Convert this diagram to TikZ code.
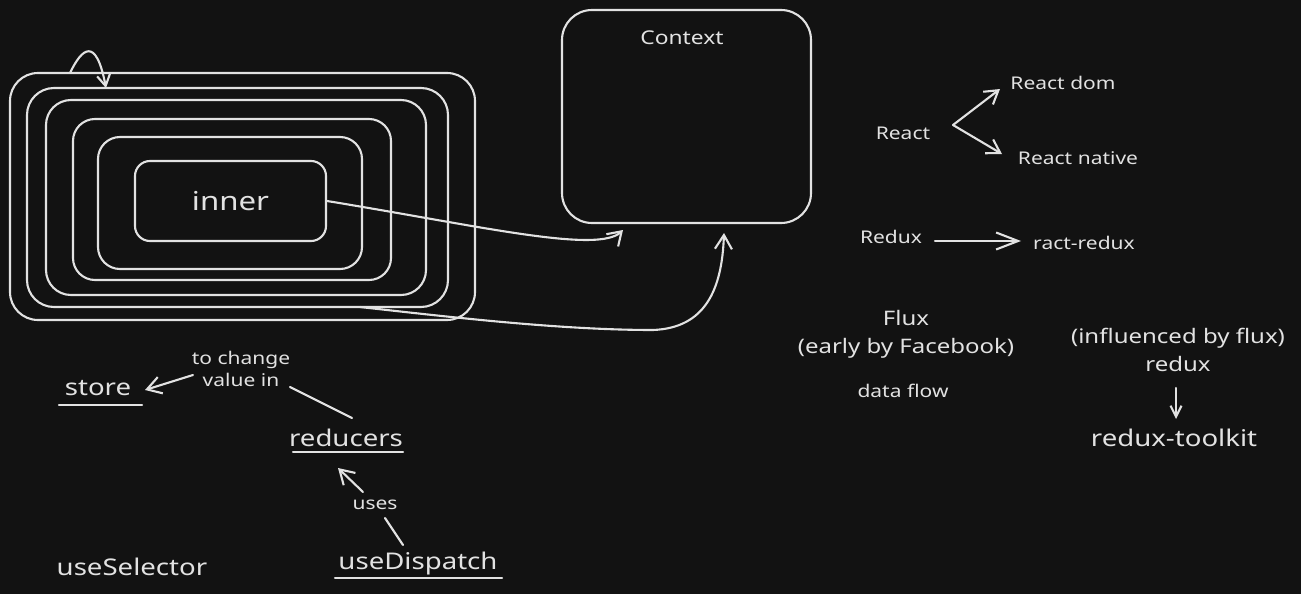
\documentclass[tikz,border=0pt]{standalone}
\usepackage{fontspec}
\setmainfont[FakeStretch=1.2]{Noto Sans}
\usetikzlibrary{arrows.meta}
\definecolor{bgc}{HTML}{121212}
\definecolor{ink}{HTML}{E2E2E2}
\tikzset{
  rbox/.style={draw=ink, line width=2.1pt, rounded corners=#1, inner sep=0pt},
  rbox/.default=25pt,
  txt/.style={text=ink, inner sep=1pt, align=center},
  fS/.style={font=\fontsize{17.5}{22}\selectfont},
  fC/.style={font=\fontsize{19}{22}\selectfont},
  fM/.style={font=\fontsize{20}{28}\selectfont},
  fL/.style={font=\fontsize{23}{28}\selectfont},
  fX/.style={font=\fontsize{26}{30}\selectfont},
  arr/.style 2 args={-{Straight Barb[length=#1,width=#2]}},
  conn/.style={draw=ink, line width=2.1pt, line cap=round, line join=round},
}
\begin{document}
\begin{tikzpicture}[x=1pt,y=-1pt]
\fill[bgc] (0,0) rectangle (1301,594);

% nested boxes
\node[rbox=28pt, minimum width=465pt, minimum height=247pt] (r1) at (242.5,196.5) {};
\node[rbox=27pt, minimum width=421pt, minimum height=219pt] (r2) at (237.5,197.5) {};
\node[rbox=25pt, minimum width=380pt, minimum height=195pt] (r3) at (236,197.5) {};
\node[rbox=22pt, minimum width=318pt, minimum height=161pt] (r4) at (232,199.5) {};
\node[rbox=22pt, minimum width=264pt, minimum height=132pt] (r5) at (230,203) {};
\node[rbox=15pt, minimum width=191pt, minimum height=80pt, txt, fX] (inner) at (230.5,201) {inner};

% context box
\node[rbox=30pt, minimum width=249pt, minimum height=213pt] (ctx) at (686.5,116.5) {};
\node[txt, fC] (ctxl) at (682,38) {Context};

% free ends
\coordinate (loopA) at (70,73);
\coordinate (loopB) at (106,88);
\coordinate (c1) at (623,230);
\coordinate (c2) at (724,233);
\coordinate (r2out) at (360,307);

\draw[conn, arr={11pt}{13pt}] (loopA) .. controls (82,48) and (96,36) .. (loopB);
\draw[conn, arr={13pt}{17pt}] (inner.east) .. controls (480,226) and (598,254) .. (c1);
\draw[conn, arr={14pt}{17pt}] (r2out) .. controls (450,317) and (560,330) .. (653,330)
   .. controls (705,328) and (722,290) .. (c2);

% right side
\node[txt, fS] (react) at (903,133) {React};
\node[txt, fS] (rdom) at (1063,83) {React dom};
\node[txt, fS] (rnative) at (1078,158) {React native};
\coordinate (rfork) at (953,125);
\coordinate (rdomin) at (1000,89);
\coordinate (rnatin) at (1002,154);
\draw[conn, arr={13pt}{16pt}] (rfork) -- (rdomin);
\draw[conn, arr={13pt}{16pt}] (rfork) -- (rnatin);

\node[txt, fS] (redux) at (891,237) {Redux};
\node[txt, fS] (ractredux) at (1084,243) {ract-redux};
\coordinate (rdxA) at (935,241);
\coordinate (rdxB) at (1021,241);
\draw[conn, arr={22pt}{17pt}] (rdxA) -- (rdxB);

\node[txt, fM] (flux) at (906,334) {Flux\\(early by Facebook)};
\node[txt, fS] (dataflow) at (903,391) {data flow};

\node[txt, fM] (infl) at (1178,350) {(influenced by flux)\\redux};
\node[txt, fL] (rtk) at (1174,438) {redux-toolkit};
\coordinate (rtkA) at (1176,388);
\coordinate (rtkB) at (1176,419);
\draw[conn, arr={11pt}{11pt}] (rtkA) -- (rtkB);

% bottom left
\node[txt, fL] (store) at (98,388) {store};
\draw[conn] (59,405) -- (142,405);
\node[txt, fS] (tochange) at (241,369) {to change\\value in};
\coordinate (tcA) at (193,375);
\coordinate (tcB) at (145,390);
\draw[conn, arr={14pt}{17pt}] (tcA) -- (tcB);

\node[txt, fL] (reducers) at (346,438) {reducers};
\draw[conn] (293,452) -- (403,452);
\coordinate (rlA) at (352,418);
\coordinate (rlB) at (290,387);
\draw[conn] (rlA) -- (rlB);

\node[txt, fS] (uses) at (375,505) {uses};
\coordinate (usA) at (363,492);
\coordinate (usB) at (338,468);
\draw[conn, arr={14pt}{17pt}] (usA) -- (usB);
\coordinate (udA) at (403,545);
\coordinate (udB) at (385,518);
\draw[conn] (udA) -- (udB);

\node[txt, fL] (usesel) at (132,567) {useSelector};
\node[txt, fL] (usedis) at (418,564) {useDispatch};
\draw[conn] (335,578) -- (502,578);
\end{tikzpicture}
\end{document}
